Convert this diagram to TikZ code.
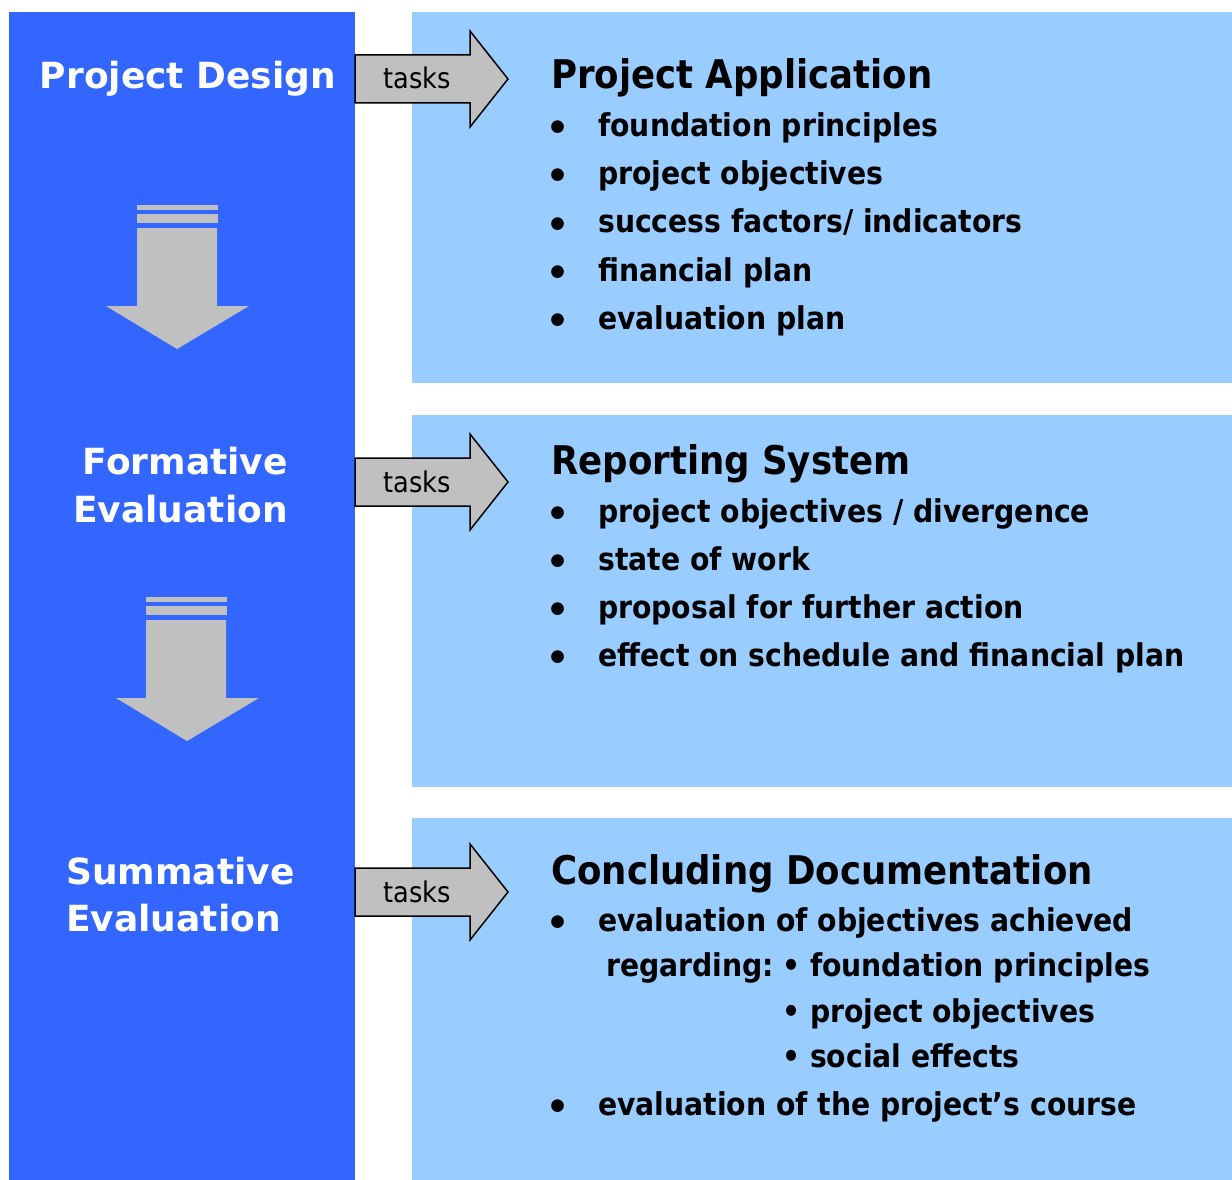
\documentclass[tikz,border=0pt]{standalone}
\usepackage{fontspec}
\setmainfont{DejaVu Sans}
\newfontfamily\condfont{DejaVu Sans Condensed}
\definecolor{bandblue}{HTML}{3366FF}
\definecolor{panelblue}{HTML}{99CCFF}
\definecolor{arrowgray}{HTML}{C0C0C0}
\tikzset{
  band/.style={fill=bandblue, draw=none},
  panel/.style={fill=panelblue, draw=none},
  blockarrow/.style={fill=arrowgray, draw=black, line width=1.5pt, line join=miter},
  downarrow/.style={fill=arrowgray, draw=none},
  lefttitle/.style={text=white, font=\fontsize{36}{36}\selectfont\bfseries, inner sep=0pt},
  heading/.style={font=\condfont\fontsize{39.5}{40}\selectfont\bfseries, anchor=base west, inner sep=0pt},
  entry/.style={font=\condfont\fontsize{31.4}{31.4}\selectfont\bfseries, anchor=base west, inner sep=0pt},
  bigdot/.style={font=\fontsize{36}{36}\selectfont\bfseries, anchor=base, inner sep=0pt},
  tasklabel/.style={font=\condfont\fontsize{28.5}{28.5}\selectfont, anchor=base, inner sep=0pt}
}
\begin{document}
\begin{tikzpicture}[x=1pt, y=-1pt]
\useasboundingbox (0,0) rectangle (1232,1180);
\fill[white] (0,0) rectangle (1232,1180);

% left band and the three panels
\fill[band]  (9,12) rectangle (355,1180);
\fill[panel] (412,12) rectangle (1232,383);
\fill[panel] (412,415) rectangle (1232,787);
\fill[panel] (412,818) rectangle (1232,1180);

% block arrows labelled "tasks"
\foreach \c/\n in {79/ta, 482/tb, 892/tc}{
  \draw[blockarrow] (355,\c-24) -- (470,\c-24) -- (470,\c-48) -- (508,\c)
        -- (470,\c+48) -- (470,\c+24) -- (355,\c+24) -- cycle;
  \node[tasklabel] (\n) at (417,\c+10) {tasks};
}

% downward arrows in the band
\fill[downarrow] (137,205) rectangle (218,210);
\fill[downarrow] (137,214) rectangle (218,223);
\fill[downarrow] (137,228) -- (217,228) -- (217,306) -- (249,306) -- (177,349)
      -- (106,306) -- (137,306) -- cycle;
\fill[downarrow] (146,597) rectangle (227,602);
\fill[downarrow] (146,606) rectangle (227,615);
\fill[downarrow] (146,620) -- (226,620) -- (226,698) -- (259,698) -- (187,741)
      -- (116,698) -- (146,698) -- cycle;

% phase titles
\node[lefttitle, anchor=base] (design) at (188,89) {Project Design};
\node[lefttitle, anchor=base east] (form1) at (288,474) {Formative};
\node[lefttitle, anchor=base east] (form2) at (288,522) {Evaluation};
\node[lefttitle, anchor=base west] (summ1) at (66,884) {Summative};
\node[lefttitle, anchor=base west] (summ2) at (66,931) {Evaluation};

% panel 1
\node[heading] (appl) at (551,89) {Project Application};
\foreach \y/\t/\n in {137/{foundation principles}/a1, 185/{project objectives}/a2,
    233/{success factors/ indicators}/a3, 281/{financial plan}/a4, 329/{evaluation plan}/a5}{
  \node[bigdot] (\n d) at (558,\y+4) {•};
  \node[entry] (\n) at (598,\y) {\t};
}

% panel 2
\node[heading] (rep) at (551,474) {Reporting System};
\foreach \y/\t/\n in {522/{project objectives / divergence}/b1, 570/{state of work}/b2,
    618/{proposal for further action}/b3, 666/{effect on schedule and financial plan}/b4}{
  \node[bigdot] (\n d) at (558,\y+4) {•};
  \node[entry] (\n) at (598,\y) {\t};
}

% panel 3
\node[heading] (concl) at (551,884) {Concluding Documentation};
\node[bigdot] (c1d) at (558,935) {•};
\node[entry] (c1) at (598,931) {evaluation of objectives achieved};
\node[entry] (reg) at (606,976) {regarding:};
\node[entry] (c2) at (782,976) {• foundation principles};
\node[entry] (c3) at (782,1022) {• project objectives};
\node[entry] (c4) at (782,1067) {• social effects};
\node[bigdot] (c5d) at (558,1119) {•};
\node[entry] (c5) at (598,1115) {evaluation of the project’s course};
\end{tikzpicture}
\end{document}
